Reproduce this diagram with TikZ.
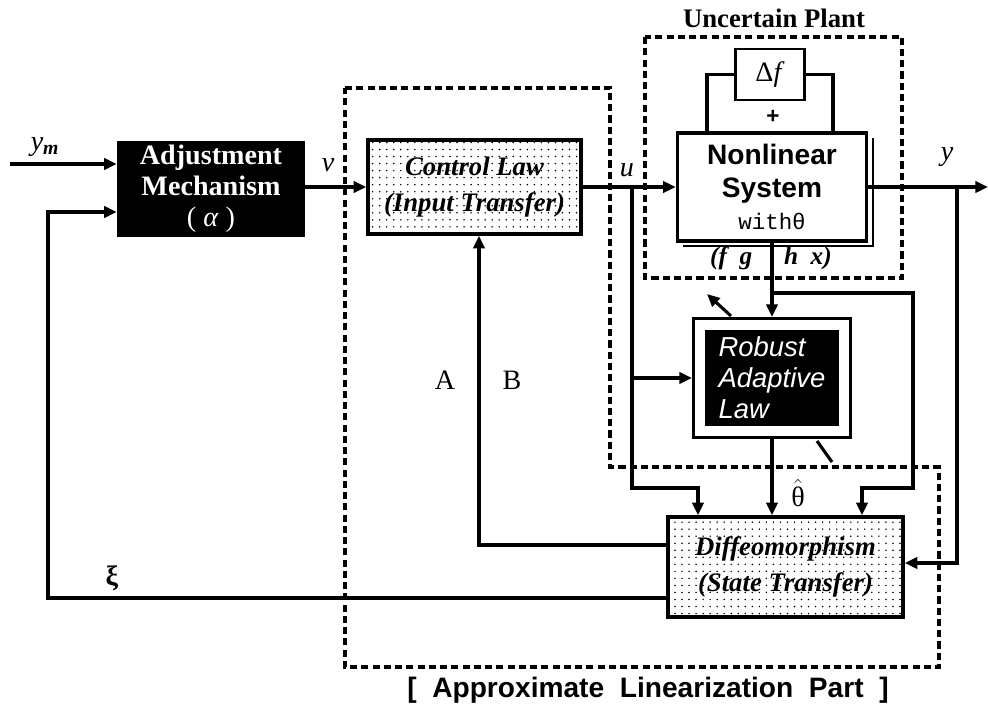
\documentclass[tikz,border=0pt]{standalone}
\usepackage{fontspec}
\setmainfont{Liberation Serif}
\setsansfont{Liberation Sans}
\setmonofont{Liberation Mono}
\usetikzlibrary{arrows.meta,patterns.meta}
\begin{document}
\begin{tikzpicture}[x=0.025cm,y=-0.025cm,
	wire/.style={line width=2.2pt},
	arr/.style={wire,-{Triangle[length=9pt,width=8pt]}},
	border/.style={dash pattern=on 5pt off 3pt,line width=2.6pt},
	lbl/.style={font=\fontsize{20}{22}\selectfont\itshape},
	blkbox/.style={fill=black,text=white,align=center,font=\fontsize{20}{22}\selectfont\bfseries},
	dotbox/.style={draw,line width=2.4pt,pattern={Dots[distance=5pt,radius=0.6pt]},align=center,font=\fontsize{19}{25}\selectfont\bfseries\itshape}]
	\useasboundingbox (0,0) rectangle (988,712);
	\node[blkbox,minimum width=4.7cm,minimum height=2.225cm] (adj) at (211,189) {Adjustment\\Mechanism\\{\mdseries( \textit{α} )}};
	\node[dotbox,minimum width=5.325cm,minimum height=2.35cm] (ctl) at (474.5,187) {Control Law\\(Input Transfer)};
	\node[draw,line width=2.4pt,fill=white,minimum width=4.725cm,minimum height=2.7cm,align=center,font=\fontsize{20}{23}\selectfont\sffamily\bfseries] (nls) at (772,187) {Nonlinear\\System\\{\mdseries\ttfamily\fontsize{16}{18}\selectfont withθ}};
	\node[draw,line width=1.6pt,minimum width=1.725cm,minimum height=1.275cm,font=\fontsize{20}{22}\selectfont] (df) at (770,74.5) {Δ\textit{f}};
	\node[draw,line width=2pt,double=white,double distance=7pt,fill=black,text=white,outer sep=5.5pt,align=left,minimum width=3.61cm,minimum height=2.66cm,font=\fontsize{19.5}{22}\selectfont\sffamily\itshape] (ral) at (772,378) {Robust\\Adaptive\\Law};
	\node[dotbox,minimum width=5.875cm,minimum height=2.5cm] (dif) at (785.5,567) {Diffeomorphism\\(State Transfer)};
	\draw[line width=1.6pt] ([shift={(5,7)}]nls.north east) -- ([shift={(5,3)}]nls.south east) -- ([shift={(7,3)}]nls.south west);
	\coordinate (ym) at (10,164);
	\coordinate (yend) at (988,187);
	\coordinate (lpL) at (707,0);
	\coordinate (lpR) at (833,0);
	\coordinate (rT) at (913,293);
	\coordinate (rB) at (862,488);
	\coordinate (uT) at (632,187);
	\coordinate (uB) at (698,488);
	\coordinate (yT) at (957,187);
	\coordinate (yB) at (957,563);
	\coordinate (abC) at (479,545);
	\coordinate (xiC) at (48,598);
	\coordinate (fbC) at (48,212);
	\coordinate (sa1) at (731,316);
	\coordinate (sa2) at (707,294);
	\coordinate (sl1) at (817,441);
	\coordinate (sl2) at (832,462);
	\draw[arr] (ym) -- (ym -| adj.west);
	\draw[arr] (adj.east |- ctl.west) -- (ctl.west);
	\draw[arr] (ctl.east) -- (nls.west);
	\draw[arr] (nls.east) -- (yend);
	\draw[wire] (df.west) -| (lpL |- nls.north);
	\draw[wire] (df.east) -| (lpR |- nls.north);
	\draw[arr] (nls.south) -- (ral.north);
	\draw[arr] (nls.south |- rT) -- (rT) |- (rB) -- (rB |- dif.north);
	\draw[arr] (uT) |- (uB) -- (uB |- dif.north);
	\draw[arr] (uT |- ral.west) -- (ral.west);
	\draw[arr] (ral.south) -- (ral.south |- dif.north);
	\draw[arr] (yT) -- (yB) -- (yB -| dif.east);
	\draw[arr] (dif.west |- abC) -- (abC) -- (abC |- ctl.south);
	\draw[arr] (dif.west |- xiC) -- (xiC) -- (fbC) -- (fbC -| adj.west);
	\draw[arr] (sa1) -- (sa2);
	\draw[wire] (sl1) -- (sl2);
	\draw[border] (645,37) rectangle (902,278);
	\draw[border] (345,88) -- (610,88) -- (610,467) -- (939,467) -- (939,667) -- (345,667) -- cycle;
	\node[font=\fontsize{19}{21}\selectfont\bfseries] (up) at (774,18) {Uncertain Plant};
	\node[font=\fontsize{20}{22}\selectfont\sffamily\bfseries] (alp) at (648,690) {[\ \ Approximate\ \ Linearization\ \ Part\ \ ]};
	\node[font=\fontsize{16}{18}\selectfont\sffamily\bfseries] (plus) at (773,117) {+};
	\node[lbl,font=\fontsize{18}{20}\selectfont\bfseries\itshape] (fghx) at (771,258) {(f\ \ g\quad\ h\ \ x)};
	\node[lbl] (vl) at (328,165) {v};
	\node[lbl] (ul) at (627,170) {u};
	\node[lbl] (yl) at (947,157) {y};
	\node[lbl] (yml) at (45,147) {y\textsubscript{\textbf{m}}};
	\node[font=\fontsize{20}{22}\selectfont\bfseries] (xil) at (112,578) {ξ};
	\node[font=\fontsize{20}{22}\selectfont] (al) at (445,380) {A};
	\node[font=\fontsize{20}{22}\selectfont] (bl) at (512,380) {B};
	\node[font=\fontsize{20}{22}\selectfont] (thl) at (798,493) {$\hat{\hbox{θ}}$};
\end{tikzpicture}
\end{document}
